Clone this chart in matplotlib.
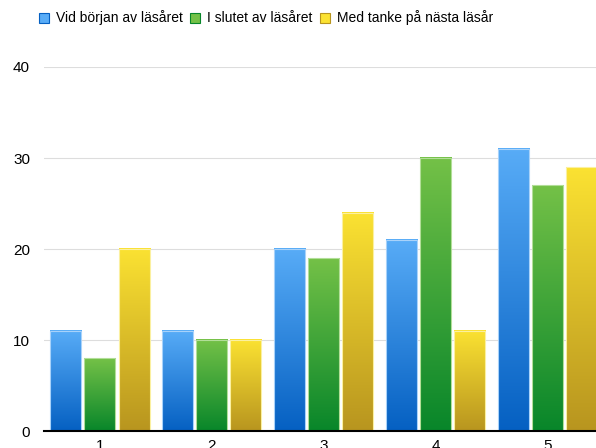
import numpy as np
import matplotlib
matplotlib.use("Agg")
import matplotlib.pyplot as plt
from matplotlib.colors import LinearSegmentedColormap
from matplotlib.patches import Rectangle, Patch

plt.rcParams['font.family'] = ['Liberation Sans', 'DejaVu Sans']

categories = ["1", "2", "3", "4", "5"]
series_names = ["Vid början av läsåret", "I slutet av läsåret", "Med tanke på nästa läsår"]
start_values = [11, 11, 20, 21, 31]
end_values = [8, 10, 19, 30, 27]
next_values = [20, 10, 24, 11, 29]
yticks = [0, 10, 20, 30, 40]

series = [start_values, end_values, next_values]
# (bottom colour, top colour, edge colour)
gradients = [
    ("#0560c2", "#58acf7", "#a8d2fa"),
    ("#08862a", "#74c147", "#b2de98"),
    ("#b8951f", "#fbe232", "#fbf0a0"),
]

fig = plt.figure(figsize=(5.96, 4.48), dpi=100)
ax = fig.add_axes([44 / 596, 17 / 448, 1 - 44 / 596, 364 / 448])

width = 0.277
step = 0.304
x = np.arange(len(categories))
grad = np.linspace(0, 1, 256).reshape(-1, 1)

for i, vals in enumerate(series):
    lo, hi, edge = gradients[i]
    cmap = LinearSegmentedColormap.from_list(f"g{i}", [lo, hi])
    for xc, v in zip(x, vals):
        x0 = xc + (i - 1) * step - width / 2
        ax.imshow(grad, extent=[x0, x0 + width, 0, v], origin="lower",
                  cmap=cmap, aspect="auto", zorder=2, interpolation="bilinear")
        ax.add_patch(Rectangle((x0, 0), width, v, fill=False, edgecolor=edge,
                               linewidth=0.8, zorder=3))

ax.set_xlim(-0.5, 4.43)
ax.set_ylim(0, 40)
ax.set_yticks(yticks)
ax.set_yticklabels([str(t) for t in yticks], fontsize=11)
ax.set_xticks(x)
ax.set_xticklabels(categories, fontsize=11)
ax.tick_params(length=0, pad=6)
ax.tick_params(axis="y", pad=10)
ax.grid(axis="y", color="#dddddd", linewidth=0.8, zorder=0)
ax.set_axisbelow(True)
for s in ["top", "right", "left"]:
    ax.spines[s].set_visible(False)
ax.spines["bottom"].set_linewidth(1.5)
ax.spines["bottom"].set_color("black")
ax.spines["bottom"].set_zorder(4)

handles = [Patch(facecolor=g[1], edgecolor=g[0], linewidth=0.8) for g in gradients]
fig.legend(handles, series_names, loc="center", bbox_to_anchor=(266 / 596, 1 - 18 / 448),
           ncol=3, frameon=False, fontsize=10, handlelength=0.75, handleheight=0.75,
           handletextpad=0.5, columnspacing=0.5)

fig.savefig("out.png", dpi=100)
